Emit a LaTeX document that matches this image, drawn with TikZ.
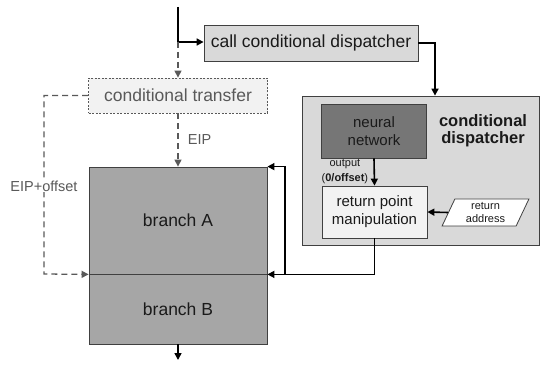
\documentclass[tikz,border=0pt]{standalone}
\usepackage{fontspec}
\setmainfont{Liberation Sans}
\usepackage{tikz}
\usetikzlibrary{arrows.meta,shapes.geometric,positioning}
\definecolor{ink}{HTML}{1A1A1A}
\definecolor{rim}{HTML}{404040}
\definecolor{mute}{HTML}{595959}
\definecolor{pale}{HTML}{F2F2F2}
\definecolor{light}{HTML}{D9D9D9}
\definecolor{mid}{HTML}{A6A6A6}
\definecolor{deep}{HTML}{767676}
\begin{document}
\begin{tikzpicture}[x=1pt,y=-1pt,
  box/.style={draw=rim,line width=0.8pt,inner sep=0pt,align=center,text=ink},
  flow/.style={line width=1.6pt,-{Triangle[length=7pt,width=7pt]}},
  jump/.style={draw=mute,line width=1.3pt,dash pattern=on 6pt off 4pt,-{Triangle[length=7pt,width=7pt]}},
  big/.style={font=\fontsize{17.5}{20}\selectfont},
  inner/.style={font=\fontsize{15}{18}\selectfont}]
  \useasboundingbox (0,0) rectangle (540,371);
  % boxes
  \node[box,big,fill=light,minimum width=214pt,minimum height=36pt] (call) at (311,43) {call conditional dispatcher};
  \node[box,big,fill=pale,draw=mute,dash pattern=on 2pt off 1.5pt,text=mute,minimum width=179pt,minimum height=35pt] (ctrans) at (178,95.5) {conditional transfer};
  \node[box,fill=light,minimum width=237pt,minimum height=149pt] (disp) at (420.5,170.5) {};
  \node[box,inner,fill=deep,minimum width=105pt,minimum height=54pt] (nn) at (374,131) {neural\\network};
  \node[box,inner,fill=pale,minimum width=105pt,minimum height=52pt] (rpm) at (374.5,212) {return point\\manipulation};
  \node[box,fill=white,trapezium,trapezium left angle=68,trapezium right angle=112,trapezium stretches=true,
        minimum width=87pt,minimum height=27pt,font=\fontsize{11}{13}\selectfont] (raddr) at (485.5,212.5) {return\\address};
  \node[align=center,text=ink,font=\bfseries\fontsize{16.5}{17}\selectfont] (dlabel) at (483,130.5) {conditional\\dispatcher};
  \node[box,big,fill=mid,minimum width=178pt,minimum height=107pt] (brA) at (178,220.5) {branch A};
  \node[box,big,fill=mid,minimum width=178pt,minimum height=70pt] (brB) at (178,309) {branch B};
  % connectors
  \coordinate (top) at (178,7);
  \coordinate (split) at (178,42);
  \coordinate (lft) at (44,274);
  \coordinate (jn) at (285,274);
  \coordinate (out) at (178,360);
  \draw[line width=1.6pt] (top) -- (split);
  \draw[flow] (split) -- (split -| call.west);
  \draw[jump] (split) -- (ctrans.north);
  \draw[flow] (call.east) -| ([xshift=14.5pt]disp.north);
  \draw[jump] (ctrans.south) -- (brA.north) node[midway,right=6pt,text=mute,font=\fontsize{14.5}{17}\selectfont] (eip) {EIP};
  \draw[jump] (ctrans.west) -| (lft) -- (brA.south west);
  \node[fill=white,inner sep=1pt,text=mute,font=\fontsize{14.5}{17}\selectfont] (eipoff) at (44,186) {EIP+offset};
  \draw[flow] (nn.south) -- (rpm.north) node[midway,left=2pt,align=center,text=ink,font=\fontsize{11}{15}\selectfont] (outlbl) {output\\(\textbf{0/offset})};
  \draw[flow] (raddr.west) -- (rpm.east);
  \draw[flow] (rpm.south) |- (brA.south east);
  \draw[flow] (jn) |- (brA.north east);
  \draw[flow] (brB.south) -- (out);
\end{tikzpicture}
\end{document}
